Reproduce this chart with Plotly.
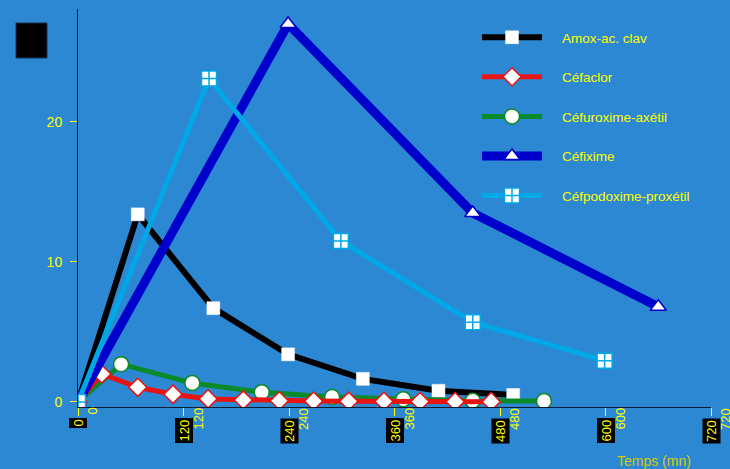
import plotly.graph_objects as go

# ---- data ----
amox_t = [0, 68, 154, 239, 324, 410, 495]
amox_c = [0, 13.4, 6.7, 3.4, 1.65, 0.8, 0.5]

cefaclor_t = [0, 27, 68, 108, 148, 188, 229, 268, 308, 348, 389, 429, 470]
cefaclor_c = [0, 2.0, 1.05, 0.55, 0.22, 0.14, 0.08, 0.06, 0.05, 0.04, 0.03, 0.02, 0.02]

cefurox_t = [0, 49, 130, 209, 289, 370, 449, 530]
cefurox_c = [0, 2.7, 1.35, 0.7, 0.35, 0.2, 0.08, 0.06]

cefixime_t = [0, 239, 449, 660]
cefixime_c = [0, 27.0, 13.5, 6.8]

cefpodox_t = [0, 149, 299, 449, 599]
cefpodox_c = [0, 23.1, 11.5, 5.7, 2.95]

x_ticks = [0, 120, 240, 360, 480, 600, 720]
x_tick_labels = ["0", "120", "240", "360", "480", "600", "720"]
y_ticks = [0, 10, 20]
y_tick_labels = ["0", "10", "20"]

series_names = ["Amox-ac. clav", "Céfaclor", "Céfuroxime-axétil", "Céfixime", "Céfpodoxime-proxétil"]

BG = "#2c88d2"
YEL = "#ffff00"
FONT = "Liberation Sans, Arial, sans-serif"
PAD = "\u00a0" * 4  # gap between legend line and legend text

fig = go.Figure()

def add(t, c, name, color, lw, symbol, msize, rank, mline=None, mlw=1.5):
    fig.add_trace(go.Scatter(
        x=t, y=c, name=PAD + name, mode="lines+markers",
        line=dict(color=color, width=lw),
        marker=dict(symbol=symbol, size=msize, color="white",
                    line=dict(color=mline or color, width=mlw)),
        legendgroup=name, legendrank=rank,
    ))

# draw order: black, green, red, blue, cyan (legend order kept via legendrank)
add(amox_t, amox_c, series_names[0], "#000000", 6, "square", 13, 1, mline="#e8eef8", mlw=0.5)
add(cefurox_t, cefurox_c, series_names[2], "#0b8a2a", 5, "circle", 15, 3)
add(cefaclor_t, cefaclor_c, series_names[1], "#e81414", 5, "diamond", 14, 2)
add(cefixime_t, cefixime_c, series_names[3], "#0000cc", 9, "triangle-up", 14, 4)
add(cefpodox_t, cefpodox_c, series_names[4], "#00a8e8", 5, "square-cross", 15, 5)

W, H = 730, 469
L, R, T, B = 78, 19, 9, 62
ph = H - T - B

def py(p):  # pixel y -> paper y
    return (H - B - p) / ph

annotations = []
for v, lab in zip(x_ticks, x_tick_labels):
    annotations.append(dict(
        x=v, xref="x", y=py(418), yref="paper", yanchor="top", xanchor="center",
        text=lab, textangle=-90, showarrow=False, bgcolor="#000000",
        font=dict(color=YEL, size=13, family=FONT), borderpad=1))
    annotations.append(dict(
        x=v, xref="x", y=py(406), yref="paper", yanchor="top", xanchor="center",
        xshift=14, text=lab, textangle=-90, showarrow=False,
        font=dict(color=YEL, size=13, family=FONT)))

annotations.append(dict(
    x=(654 - L) / (W - L - R), xref="paper", y=py(461), yref="paper",
    text="Temps (mn)", showarrow=False, xanchor="center", yanchor="middle",
    font=dict(color="#d8c800", size=14, family=FONT)))

fig.update_layout(
    width=W, height=H, autosize=False,
    margin=dict(l=L, r=R, t=T, b=B),
    paper_bgcolor=BG, plot_bgcolor=BG,
    showlegend=True,
    legend=dict(x=(477 - L) / (W - L - R), xanchor="left", y=py(22), yanchor="top",
                bgcolor="rgba(0,0,0,0)", font=dict(color=YEL, size=13.5, family=FONT),
                tracegroupgap=19, itemwidth=60),
    xaxis=dict(range=[0, 720], showgrid=False, zeroline=False,
               showline=True, linecolor="#0a1a30", linewidth=1,
               tickvals=x_ticks, ticktext=x_tick_labels, showticklabels=False,
               ticks="outside", ticklen=8, tickcolor=YEL, tickwidth=1),
    yaxis=dict(range=[-0.36, 28.07], showgrid=False, zeroline=False,
               showline=True, linecolor="#0a1a30", linewidth=1,
               tickvals=y_ticks, ticktext=y_tick_labels,
               ticks="outside", ticklen=7, tickcolor=YEL, tickwidth=1,
               ticklabelstandoff=5,
               tickfont=dict(color=YEL, size=14, family=FONT)),
    shapes=[dict(type="rect", xref="paper", yref="paper",
                 x0=(16 - L) / (W - L - R), x1=(47 - L) / (W - L - R),
                 y0=py(58), y1=py(23), fillcolor="#000000",
                 line=dict(color="#1a3050", width=1))],
    annotations=annotations,
)

fig.write_html("out.html", config={"displayModeBar": False},
               post_script="document.body.style.margin='0';")
